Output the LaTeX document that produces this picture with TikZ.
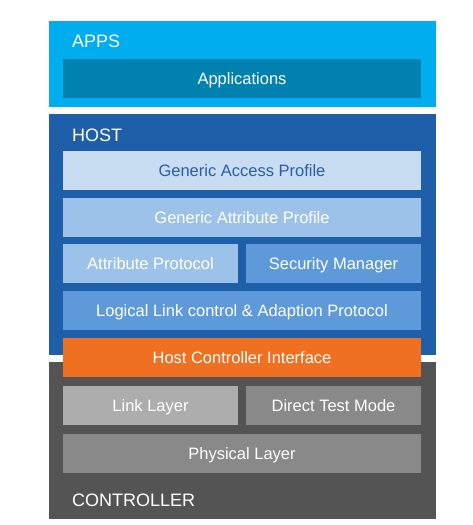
\documentclass[tikz,border=0pt]{standalone}
\usepackage{fontspec}
\setmainfont{Liberation Sans}
\usetikzlibrary{positioning}
\definecolor{appsBlue}{HTML}{00ADEE}
\definecolor{appsDark}{HTML}{0081B0}
\definecolor{hostBlue}{HTML}{1F5EA8}
\definecolor{gapFill}{HTML}{C8DCF2}
\definecolor{gapText}{HTML}{2B5DA8}
\definecolor{gattFill}{HTML}{9CC2EA}
\definecolor{smFill}{HTML}{5E99DA}
\definecolor{hciFill}{HTML}{F07021}
\definecolor{ctrlGray}{HTML}{545454}
\definecolor{llFill}{HTML}{ADADAD}
\definecolor{dtmFill}{HTML}{898989}
\tikzstyle{layer} = [rectangle, inner sep=0pt, minimum height=39pt, text height=11.8pt, text depth=0pt, text=white, font=\fontsize{16.5}{18}\selectfont]
\tikzstyle{wide} = [layer, minimum width=358pt]
\tikzstyle{half} = [layer, minimum width=175pt]
\tikzstyle{group} = [rectangle, inner sep=0pt, minimum width=387pt]
\tikzstyle{title} = [anchor=west, inner sep=0pt, text height=13pt, text depth=0pt, text=white, font=\fontsize{18}{20}\selectfont]
\begin{document}
\begin{tikzpicture}[x=1pt,y=-1pt]
  \useasboundingbox (0,0) rectangle (473,525);
  % the three groups
  \node[group,fill=appsBlue,minimum height=86pt] at (242.5,64)(apps){};
  \node[group,fill=hostBlue,minimum height=241pt] at (242.5,234.5)(host){};
  \node[group,fill=ctrlGray,minimum height=157pt] at (242.5,440.5)(ctrl){};
  \node[title] at (72,41)(appsT){APPS};
  \node[title] at (72,134.5)(hostT){HOST};
  \node[title] at (72,499.5)(ctrlT){CONTROLLER};

  \node[wide,fill=appsDark] at (242,78.5)(app){Applications};

  \node[wide,fill=gapFill,text=gapText] at (242,170.5)(gap){Generic Access Profile};
  \node[wide,fill=gattFill,below=8pt of gap](gatt){Generic Attribute Profile};
  \node[half,fill=gattFill] at (150.5,263.5)(att){Attribute Protocol};
  \node[half,fill=smFill] at (333.5,263.5)(sm){Security Manager};
  \node[wide,fill=smFill] at (242,310.5)(l2cap){Logical Link control \& Adaption Protocol};
  \node[wide,fill=hciFill,below=8pt of l2cap](hci){Host Controller Interface};

  \node[half,fill=llFill] at (150.5,405.5)(ll){Link Layer};
  \node[half,fill=dtmFill] at (333.5,405.5)(dtm){Direct Test Mode};
  \node[wide,fill=dtmFill] at (242,453.5)(phy){Physical Layer};
\end{tikzpicture}
\end{document}
